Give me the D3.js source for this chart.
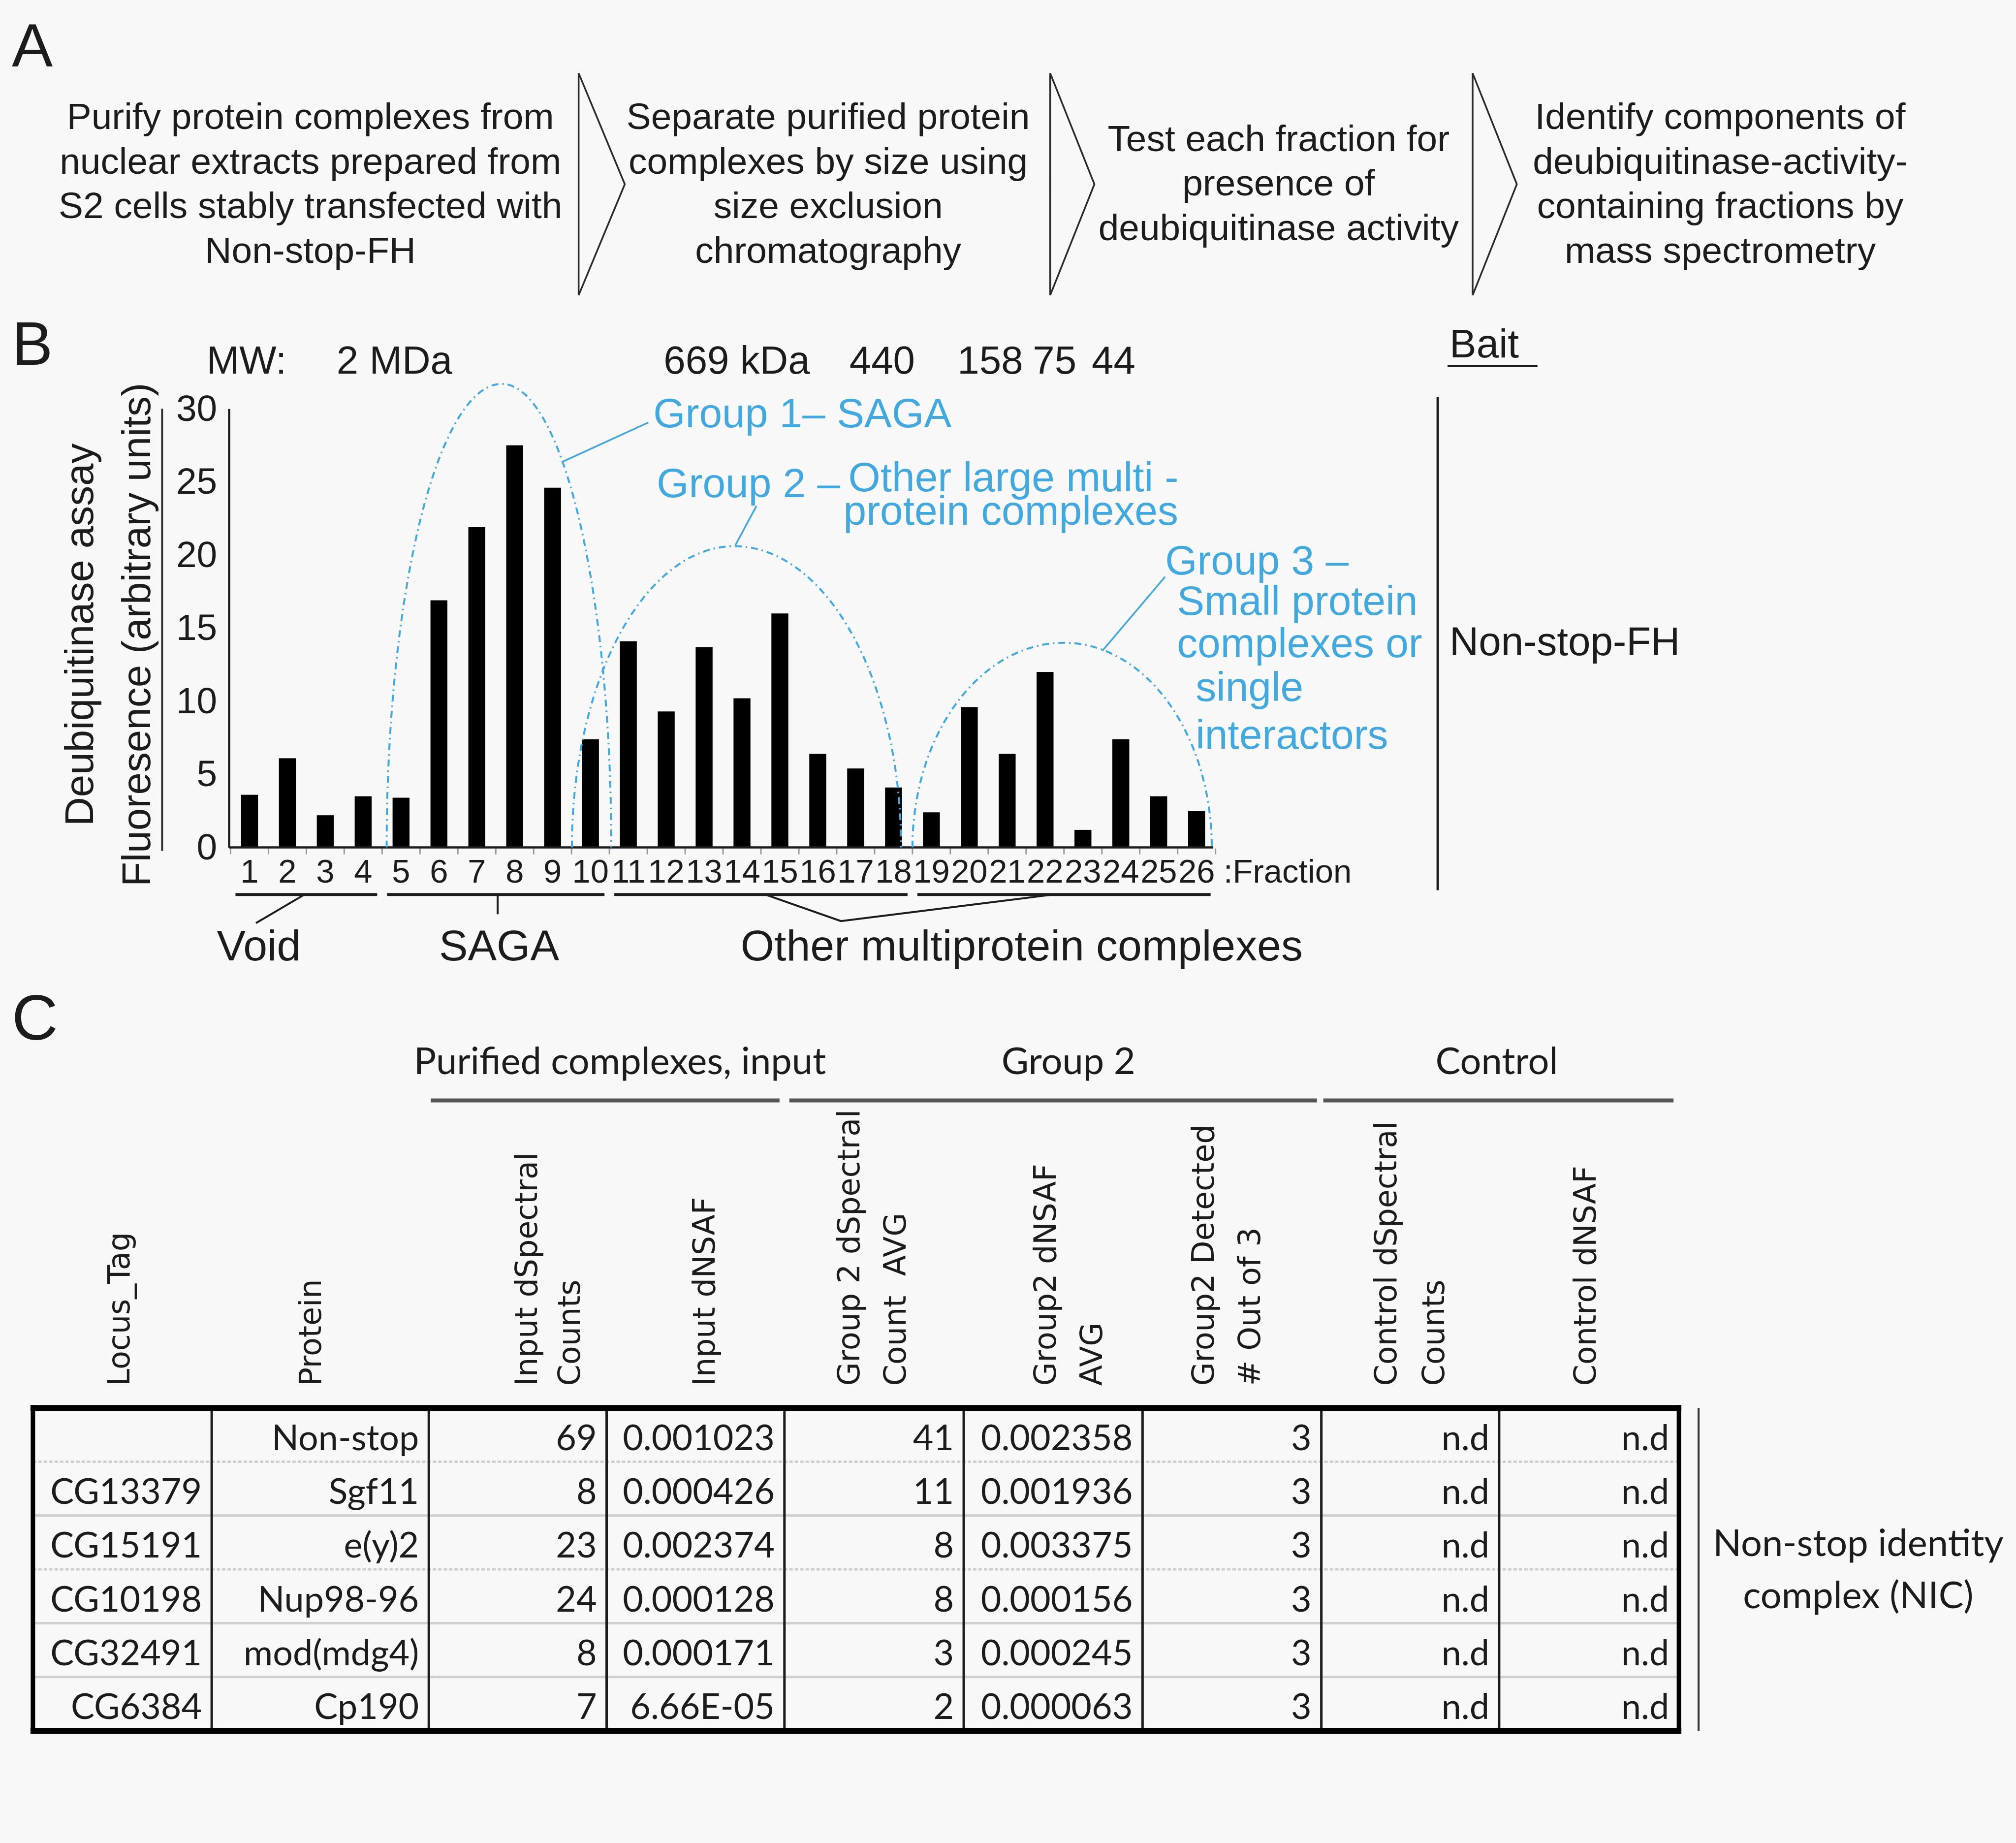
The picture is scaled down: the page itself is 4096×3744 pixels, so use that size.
<!DOCTYPE html>
<html><head><meta charset="utf-8">
<script src="https://cdn.jsdelivr.net/npm/d3@7"></script>
<style>html,body{margin:0;padding:0;background:#f8f8f8;} svg{display:block;} text{white-space:pre;}</style>
</head><body>
<script>
// ---------------- DATA ----------------
const stepTexts = [
  ["Purify protein complexes from", "nuclear extracts prepared from", "S2 cells stably transfected with", "Non-stop-FH"],
  ["Separate purified protein", "complexes by size using", "size exclusion", "chromatography"],
  ["Test each fraction for", "presence of", "deubiquitinase activity"],
  ["Identify components of", "deubiquitinase-activity-", "containing fractions by", "mass spectrometry"]
];
const fractions = ["1","2","3","4","5","6","7","8","9","10","11","12","13","14","15","16","17","18","19","20","21","22","23","24","25","26"];
const fluorescence = [3.6,6.1,2.2,3.5,3.4,16.9,21.9,27.5,24.6,7.4,14.1,9.3,13.7,10.2,16.0,6.4,5.4,4.1,2.4,9.6,6.4,12.0,1.2,7.4,3.5,2.5];
const yTicks = [0,5,10,15,20,25,30];
const mwLabels = ["MW:", "2 MDa", "669 kDa", "440", "158", "75", "44"];
const yTitle = ["Deubiquitinase assay", "Fluoresence (arbitrary units)"];
const fractionGroups = [
  {label:"Void", from:1, to:4},
  {label:"SAGA", from:5, to:10},
  {label:"Other multiprotein complexes", from:11, to:18},
  {label:"", from:19, to:26}
];
const activityGroups = [
  {start:4.62, peak:7.66, end:10.55, top:31.7},
  {start:9.51, peak:13.8, end:18.2, top:20.6},
  {start:18.5, peak:22.5, end:26.4, top:14.0}
];
const groupLabels = [
  ["Group 1\u2013 SAGA"],
  ["Group 2 \u2013", "Other large multi -", "protein complexes"],
  ["Group 3 \u2013", "Small protein", "complexes or", "single", "interactors"]
];
const baitLabels = ["Bait", "Non-stop-FH"];

const headerGroups = ["Purified complexes, input", "Group 2", "Control"];
const columnHeaders = [
  ["Locus_Tag"], ["Protein"], ["Input dSpectral", "Counts"], ["Input dNSAF"],
  ["Group 2 dSpectral", "Count  AVG"], ["Group2 dNSAF", "AVG"], ["Group2 Detected", "# Out of 3"],
  ["Control dSpectral", "Counts"], ["Control dNSAF"]
];
const locusTags = ["", "CG13379", "CG15191", "CG10198", "CG32491", "CG6384"];
const proteins = ["Non-stop", "Sgf11", "e(y)2", "Nup98-96", "mod(mdg4)", "Cp190"];
const inputCounts = ["69", "8", "23", "24", "8", "7"];
const inputDNSAF = ["0.001023", "0.000426", "0.002374", "0.000128", "0.000171", "6.66E-05"];
const group2Counts = ["41", "11", "8", "8", "3", "2"];
const group2DNSAF = ["0.002358", "0.001936", "0.003375", "0.000156", "0.000245", "0.000063"];
const group2Detected = ["3", "3", "3", "3", "3", "3"];
const controlCounts = ["n.d", "n.d", "n.d", "n.d", "n.d", "n.d"];
const controlDNSAF = ["n.d", "n.d", "n.d", "n.d", "n.d", "n.d"];
const nicLabel = ["Non-stop identity", "complex (NIC)"];

// ---------------- LAYOUT ----------------
const ARIAL = "'Liberation Sans', Arial, sans-serif";
const CAL = "Lato, 'Open Sans', sans-serif";
const VERD = "'DejaVu Sans', Verdana, sans-serif";
const INK = "#1c1c1c";
const BLUE = "#42a8e0";

const svg = d3.select("body").append("svg").attr("width", 4096).attr("height", 3744);
const root = svg.append("g").attr("transform", "scale(0.998)");
root.append("rect").attr("width", 4101).attr("height", 3749).attr("fill", "#f8f8f8");

// panel letters
[["A", 24, 135, 125], ["B", 24, 742, 125], ["C", 24, 2116, 130]].forEach(([t, x, y, s]) => {
  root.append("text").attr("x", x).attr("y", y).attr("font-family", ARIAL).attr("font-size", s).attr("fill", INK).text(t);
});

// ---------------- PANEL A ----------------
const stepPos = [{cx:632, y0:236}, {cx:1686, y0:236}, {cx:2603, y0:281}, {cx:3502, y0:236}];
stepTexts.forEach((lines, i) => {
  const t = root.append("text").attr("font-family", ARIAL).attr("font-size", 75).attr("fill", INK).attr("text-anchor", "middle");
  lines.forEach((l, j) => t.append("tspan").attr("x", stepPos[i].cx).attr("y", stepPos[i].y0 + j * 91).attr("dy", "0.35em").text(l));
});
const chevrons = [{x:1178, tip:1272}, {x:2138, tip:2228}, {x:2998, tip:3088}];
chevrons.forEach(c => {
  root.append("path").attr("d", `M${c.x},149 L${c.x},601 M${c.x},149 L${c.tip},375 L${c.x},601`)
    .attr("fill", "none").attr("stroke", "#2a2a2a").attr("stroke-width", 3.5).attr("stroke-linejoin", "miter");
});

// ---------------- PANEL B ----------------
const mwCx = [502, 803, 1500, 1796, 2016, 2147, 2267];
mwLabels.forEach((m, i) => root.append("text").attr("x", mwCx[i]).attr("y", 761).attr("text-anchor", "middle")
  .attr("font-family", ARIAL).attr("font-size", 80).attr("fill", INK).text(m));

const y = d3.scaleLinear().domain([0, 30]).range([1725, 832]);
const x = d3.scaleBand().domain(fractions).range([469.4, 2474.6]).paddingInner(0.553).paddingOuter(0.2765);
const xf = d3.scaleLinear().domain([0.5, 26.5]).range([469.4, 2474.6]);

// y axis
const yAxis = root.append("g").attr("transform", "translate(466,0)")
  .call(d3.axisLeft(y).tickValues(yTicks).tickSize(0).tickSizeOuter(0).tickPadding(24));
yAxis.select(".domain").attr("stroke", INK).attr("stroke-width", 4.5);
yAxis.selectAll("text").attr("font-family", ARIAL).attr("font-size", 75).attr("fill", INK);

// x axis
const xAxis = root.append("g").attr("transform", "translate(0,1725)")
  .call(d3.axisBottom(x).tickSize(0).tickSizeOuter(0).tickPadding(24));
xAxis.select(".domain").remove();
xAxis.selectAll("text").attr("font-family", ARIAL).attr("font-size", 67).attr("fill", INK);
root.append("text").attr("x", 2491).attr("y", 1797).attr("font-family", ARIAL).attr("font-size", 67).attr("fill", INK).text(":Fraction");

// band boundary ticks
root.append("g").selectAll("line").data(d3.range(0, 27)).join("line")
  .attr("x1", i => xf(i + 0.5)).attr("x2", i => xf(i + 0.5)).attr("y1", 1727).attr("y2", 1739)
  .attr("stroke", "#999").attr("stroke-width", 3);

// bars
root.append("g").selectAll("rect").data(fluorescence).join("rect")
  .attr("x", (d, i) => x(fractions[i])).attr("width", x.bandwidth())
  .attr("y", d => y(d)).attr("height", d => y(0) - y(d)).attr("fill", "#000");

// x baseline
root.append("line").attr("x1", 466).attr("x2", 2470).attr("y1", 1725).attr("y2", 1725)
  .attr("stroke", INK).attr("stroke-width", 4.5);

// y title
[[161, yTitle[0]], [277, yTitle[1]]].forEach(([cx, t]) => {
  root.append("text").attr("transform", `translate(${cx},1292) rotate(-90)`).attr("dy", "0.35em")
    .attr("text-anchor", "middle").attr("font-family", ARIAL).attr("font-size", 82).attr("fill", INK).text(t);
});
root.append("line").attr("x1", 330).attr("x2", 330).attr("y1", 832).attr("y2", 1732).attr("stroke", "#333").attr("stroke-width", 4);

// fraction group brackets
const bY = 1821;
fractionGroups.forEach(g => {
  root.append("line").attr("x1", xf(g.from - 0.5) + 10).attr("x2", xf(g.to + 0.5) - 10)
    .attr("y1", bY).attr("y2", bY).attr("stroke", INK).attr("stroke-width", 6);
});
root.append("path").attr("d", `M${xf(2.5) - 4},${bY} L521,1879`).attr("stroke", INK).attr("stroke-width", 4).attr("fill", "none");
root.append("path").attr("d", `M${xf(7.55)},${bY} L${xf(7.55)},1861`).attr("stroke", INK).attr("stroke-width", 4).attr("fill", "none");
root.append("path").attr("d", `M${xf(14.62)},${bY} L1712,1875 L${xf(22.2)},${bY}`).attr("stroke", INK).attr("stroke-width", 4).attr("fill", "none");
[["Void", 527], ["SAGA", 1016], ["Other multiprotein complexes", 2080]].forEach(([t, cx]) => {
  root.append("text").attr("x", cx).attr("y", 1955).attr("text-anchor", "middle").attr("font-family", ARIAL)
    .attr("font-size", 88).attr("fill", INK).text(t);
});

// activity group arcs
activityGroups.forEach(g => {
  const x0 = xf(g.start), xp = xf(g.peak), x1 = xf(g.end), y0 = y(0), yt = y(g.top);
  const ry = y0 - yt;
  root.append("path")
    .attr("d", `M${x0},${y0} A${xp - x0},${ry} 0 0 1 ${xp},${yt} A${x1 - xp},${ry} 0 0 1 ${x1},${y0}`)
    .attr("fill", "none").attr("stroke", BLUE).attr("stroke-width", 4).attr("stroke-dasharray", "14 8 3 8");
});

// blue labels
const blueText = (t, x0, yb) => root.append("text").attr("x", x0).attr("y", yb).attr("font-family", ARIAL)
  .attr("font-size", 84).attr("fill", BLUE).text(t);
blueText(groupLabels[0][0], 1330, 870);
blueText(groupLabels[1][0], 1337, 1012);
blueText(groupLabels[1][1], 1727, 1000);
blueText(groupLabels[1][2], 1717, 1068);
const g3x = [2372, 2396, 2396, 2434, 2434];
const g3y = [1169, 1252, 1338, 1427, 1524];
groupLabels[2].forEach((t, i) => blueText(t, g3x[i], g3y[i]));
[[1320, 860, 1145, 940], [1540, 1030, 1497, 1110], [2372, 1174, 2244, 1325]].forEach(([a, b, c, d]) => {
  root.append("line").attr("x1", a).attr("y1", b).attr("x2", c).attr("y2", d).attr("stroke", BLUE).attr("stroke-width", 3.5);
});

// bait
root.append("text").attr("x", 2951).attr("y", 727).attr("font-family", ARIAL).attr("font-size", 82).attr("fill", INK).text(baitLabels[0]);
root.append("line").attr("x1", 2947).attr("x2", 3130).attr("y1", 745).attr("y2", 745).attr("stroke", INK).attr("stroke-width", 5);
root.append("line").attr("x1", 2927).attr("x2", 2927).attr("y1", 808).attr("y2", 1812).attr("stroke", INK).attr("stroke-width", 5);
root.append("text").attr("x", 2951).attr("y", 1334).attr("font-family", ARIAL).attr("font-size", 82).attr("fill", INK).text(baitLabels[1]);

// ---------------- PANEL C ----------------
const colEdges = [67, 431, 873, 1235, 1597, 1962, 2326, 2690, 3052, 3418];
const rowScale = d3.scaleBand().domain(d3.range(6)).range([2866, 3523]);
const tableCols = [locusTags, proteins, inputCounts, inputDNSAF, group2Counts, group2DNSAF, group2Detected, controlCounts, controlDNSAF];

// header groups
const hgX = [1262, 2175, 3047];
const hgLines = [[877, 1587], [1607, 2681], [2694, 3407]];
headerGroups.forEach((t, i) => {
  root.append("text").attr("x", hgX[i]).attr("y", 2186).attr("text-anchor", "middle").attr("font-family", CAL)
    .attr("font-size", 76).attr("fill", INK).text(t);
  root.append("line").attr("x1", hgLines[i][0]).attr("x2", hgLines[i][1]).attr("y1", 2240).attr("y2", 2240)
    .attr("stroke", "#555").attr("stroke-width", 8);
});

// rotated column headers
const headX = [[241], [631], [1071, 1158], [1433], [1727, 1821], [2127, 2221], [2449, 2543], [2820, 2918], [3226]];
columnHeaders.forEach((lines, i) => {
  lines.forEach((l, j) => {
    root.append("text").attr("transform", `translate(${headX[i][j]},2821) rotate(-90)`).attr("dy", "0.36em")
      .attr("font-family", VERD).attr("font-size", 62).attr("fill", INK).text(l);
  });
});

// row separators
d3.range(1, 6).forEach(r => {
  const yy = rowScale(r);
  root.append("line").attr("x1", colEdges[0]).attr("x2", colEdges[9]).attr("y1", yy).attr("y2", yy)
    .attr("stroke", "#cfcfcf").attr("stroke-width", 5)
    .attr("stroke-dasharray", (r === 1 || r === 3) ? "7 4" : null);
});
// cells
tableCols.forEach((col, c) => {
  col.forEach((v, r) => {
    root.append("text").attr("x", colEdges[c + 1] - 20).attr("y", rowScale(r) + rowScale.bandwidth() / 2 + 31)
      .attr("text-anchor", "end").attr("font-family", CAL).attr("font-size", 72).attr("fill", INK).text(v);
  });
});
// inner verticals
colEdges.slice(1, 9).forEach(cx => {
  root.append("line").attr("x1", cx).attr("x2", cx).attr("y1", 2866).attr("y2", 3523).attr("stroke", INK).attr("stroke-width", 5);
});
// outer border
root.append("line").attr("x1", 62).attr("x2", 3423).attr("y1", 2866).attr("y2", 2866).attr("stroke", "#000").attr("stroke-width", 12);
root.append("line").attr("x1", 62).attr("x2", 3423).attr("y1", 3523).attr("y2", 3523).attr("stroke", "#000").attr("stroke-width", 12);
root.append("line").attr("x1", 67).attr("x2", 67).attr("y1", 2860).attr("y2", 3529).attr("stroke", "#000").attr("stroke-width", 9);
root.append("line").attr("x1", 3418).attr("x2", 3418).attr("y1", 2860).attr("y2", 3529).attr("stroke", "#000").attr("stroke-width", 9);
// NIC bracket
root.append("line").attr("x1", 3458).attr("x2", 3458).attr("y1", 2866).attr("y2", 3523).attr("stroke", "#333").attr("stroke-width", 4);
[[3167, nicLabel[0]], [3274, nicLabel[1]]].forEach(([yy, t]) => {
  root.append("text").attr("x", 3783).attr("y", yy).attr("text-anchor", "middle").attr("font-family", CAL)
    .attr("font-size", 76).attr("fill", INK).text(t);
});
</script>
</body></html>
